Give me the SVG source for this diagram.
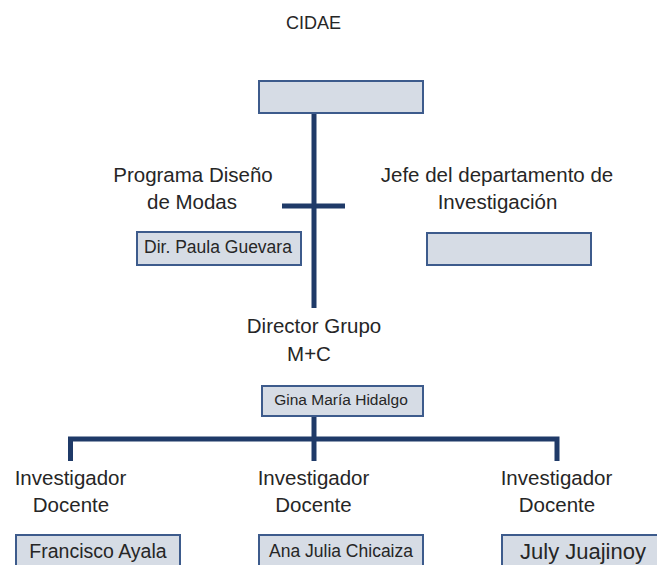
<svg xmlns="http://www.w3.org/2000/svg" width="657" height="565" viewBox="0 0 657 565">
<style>
text{font-family:"Liberation Sans",Arial,sans-serif;fill:#262626;text-anchor:middle}
.lbl{font-size:20.5px}
.box{fill:#d6dce5;stroke:#3d5b8c;stroke-width:2}
.ln{fill:none;stroke:#1f3a68;stroke-width:5;stroke-linejoin:miter;stroke-linecap:butt}
</style>
<rect width="657" height="565" fill="#ffffff"/>
<g id="connectors">
<line class="ln" x1="314" y1="113" x2="314" y2="308"/>
<line class="ln" x1="282" y1="206" x2="345" y2="206"/>
<line class="ln" x1="314" y1="416" x2="314" y2="461"/>
<path class="ln" d="M70.5,461 V439 H557 V461"/>
</g>
<g id="cidae">
<text x="313.5" y="29" style="font-size:18px">CIDAE</text>
<rect class="box" x="259" y="81" width="164" height="32"/>
</g>
<g id="programa">
<text class="lbl" x="193" y="182">Programa Diseño</text>
<text class="lbl" x="192" y="209">de Modas</text>
<rect class="box" x="137" y="232" width="164" height="33"/>
<text x="218" y="253" style="font-size:17.5px">Dir. Paula Guevara</text>
</g>
<g id="jefe">
<text class="lbl" x="497" y="182">Jefe del departamento de</text>
<text class="lbl" x="497.5" y="209">Investigación</text>
<rect class="box" x="427" y="233" width="164" height="32"/>
</g>
<g id="director">
<text class="lbl" x="314" y="333">Director Grupo</text>
<text class="lbl" x="309" y="361">M+C</text>
<rect class="box" x="262" y="386" width="161" height="30"/>
<text x="341" y="405" style="font-size:15.5px">Gina María Hidalgo</text>
</g>
<g id="inv1">
<text class="lbl" x="70.5" y="485">Investigador</text>
<text class="lbl" x="71" y="512">Docente</text>
<rect class="box" x="16" y="535" width="164" height="40"/>
<text x="98" y="558" style="font-size:19.5px">Francisco Ayala</text>
</g>
<g id="inv2">
<text class="lbl" x="313.5" y="485">Investigador</text>
<text class="lbl" x="313.5" y="512">Docente</text>
<rect class="box" x="259" y="535" width="164" height="40"/>
<text x="341" y="557" style="font-size:17.5px">Ana Julia Chicaiza</text>
</g>
<g id="inv3">
<text class="lbl" x="556.5" y="485">Investigador</text>
<text class="lbl" x="557" y="512">Docente</text>
<rect class="box" x="502" y="535" width="164" height="40"/>
<text x="583" y="559" style="font-size:22px">July Juajinoy</text>
</g>
</svg>
